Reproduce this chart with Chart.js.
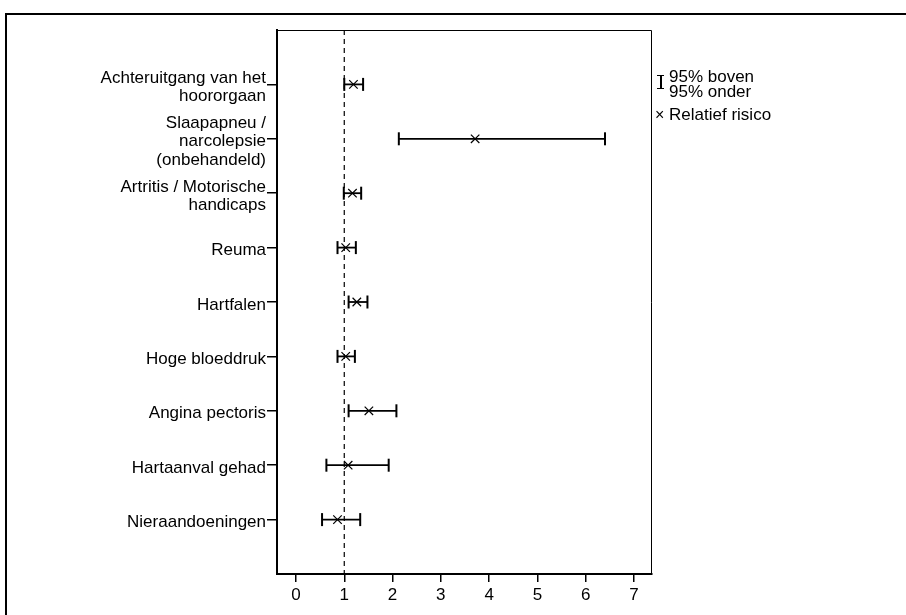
<!DOCTYPE html>
<html>
<head>
<meta charset="utf-8">
<script src="https://cdn.jsdelivr.net/npm/chart.js@4.4.1/dist/chart.umd.min.js"></script>
<style>
  body { margin: 0; background: #fff; }
  #wrap { position: relative; width: 906px; height: 615px; overflow: hidden; font-family: "Liberation Sans", Arial, sans-serif; }
  #frame { position: absolute; left: 5px; top: 13px; width: 920px; height: 640px; border: 2px solid #000; }
  canvas { position: absolute; left: 0; top: 0; }
  .leg { position: absolute; font-size: 17px; color: #000; white-space: nowrap; }
  #ibeam { position: absolute; left: 657px; top: 75px; width: 7px; height: 12px; border-top: 1.5px solid #000; border-bottom: 1.5px solid #000; }
  #ibeam:after { content: ""; position: absolute; left: 3px; top: 0; width: 1.5px; height: 12px; background: #000; }
</style>
</head>
<body>
<div id="wrap">
  <div id="frame"></div>
  <canvas id="forest" width="906" height="615"></canvas>
  <div id="ibeam"></div>
  <div class="leg" style="left:669px; top:69px; line-height:15px;">95% boven<br>95% onder</div>
  <div class="leg" style="left:655px; top:105px; line-height:19px;"><span style="font-size:16px;">&times;</span> Relatief risico</div>
</div>
<script>
// ---- data ----
const categories = [
    ['Achteruitgang van het', 'hoororgaan'],
    ['Slaapapneu /', 'narcolepsie', '(onbehandeld)'],
    ['Artritis / Motorische', 'handicaps'],
    ['Reuma'],
    ['Hartfalen'],
    ['Hoge bloeddruk'],
    ['Angina pectoris'],
    ['Hartaanval gehad'],
    ['Nieraandoeningen']
];
const relRisk  = [1.19, 3.71, 1.17, 1.03, 1.26, 1.03, 1.51, 1.08, 0.86];
const ciLower  = [1.00, 2.13, 0.99, 0.86, 1.09, 0.86, 1.09, 0.63, 0.54];
const ciUpper  = [1.39, 6.40, 1.35, 1.24, 1.48, 1.22, 2.08, 1.92, 1.33];
const xTicks   = [0, 1, 2, 3, 4, 5, 6, 7];
const refValue = 1;

// rij-posities 1..9 op een as van 0..10
const rowPos = categories.map((c, i) => i + 1);

const ciSets = rowPos.map((y, i) => ({
    type: 'line',
    data: [{ x: ciLower[i], y: y }, { x: ciUpper[i], y: y }],
    borderColor: '#000',
    borderWidth: 1.8,
    pointStyle: 'line',
    rotation: 90,
    pointRadius: 6.5,
    pointBorderWidth: 2,
    pointBorderColor: '#000',
    pointHoverRadius: 6.5
}));

const rrSet = {
    type: 'scatter',
    data: rowPos.map((y, i) => ({ x: relRisk[i], y: y })),
    pointStyle: 'crossRot',
    pointRadius: 6,
    pointBorderWidth: 1.2,
    borderColor: '#000',
    backgroundColor: '#000'
};

const refSet = {
    type: 'line',
    data: [{ x: refValue, y: 0 }, { x: refValue, y: 10 }],
    borderColor: '#000',
    borderWidth: 1.2,
    borderDash: [5, 4],
    pointRadius: 0
};

// kader rondom het plotgebied (boven en rechts)
const boxPlugin = {
    id: 'box',
    afterDraw(chart) {
        const a = chart.chartArea, ctx = chart.ctx;
        ctx.save();
        ctx.strokeStyle = '#000';
        ctx.lineWidth = 1;
        ctx.beginPath();
        ctx.moveTo(a.left, a.top + 0.5);
        ctx.lineTo(a.right - 0.5, a.top + 0.5);
        ctx.lineTo(a.right - 0.5, a.bottom);
        ctx.stroke();
        ctx.restore();
    }
};

new Chart(document.getElementById('forest').getContext('2d'), {
    data: { datasets: [refSet, ...ciSets, rrSet] },
    plugins: [boxPlugin],
    options: {
        responsive: false,
        animation: false,
        layout: { padding: { left: 0, top: 30, right: 254, bottom: 0 } },
        plugins: { legend: { display: false }, tooltip: { enabled: false } },
        scales: {
            x: {
                type: 'linear',
                min: -0.393,
                max: 7.373,
                afterBuildTicks: s => { s.ticks = xTicks.map(v => ({ value: v })); },
                afterFit: s => { s.height = 41; },
                grid: { drawOnChartArea: false, color: '#000', lineWidth: 1.5, tickLength: 8 },
                border: { color: '#000', width: 2 },
                ticks: { color: '#000', padding: 3, maxRotation: 0, font: { family: 'Liberation Sans', size: 17 } }
            },
            y: {
                type: 'linear',
                min: 0,
                max: 10,
                reverse: true,
                afterBuildTicks: s => { s.ticks = rowPos.map(v => ({ value: v })); },
                afterFit: s => { s.width = 277; },
                grid: { drawOnChartArea: false, color: '#000', lineWidth: 1.5, tickLength: 10 },
                border: { color: '#000', width: 2 },
                ticks: {
                    color: '#000',
                    padding: 1,
                    labelOffset: 3,
                    font: { family: 'Liberation Sans', size: 17, lineHeight: 1.08 },
                    callback: v => categories[v - 1] || ''
                }
            }
        }
    }
});
</script>
</body>
</html>
